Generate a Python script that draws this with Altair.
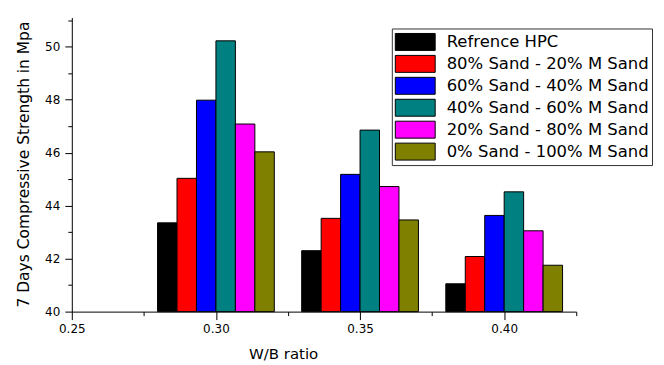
import altair as alt
import pandas as pd

wb_ratio = [0.30, 0.35, 0.40]
series = ["Refrence HPC", "80% Sand - 20% M Sand", "60% Sand - 40% M Sand",
          "40% Sand - 60% M Sand", "20% Sand - 80% M Sand", "0% Sand - 100% M Sand"]
colors = ["#000000", "#FF0000", "#0000FF", "#008080", "#FF00FF", "#808000"]

refrence_hpc = [43.35, 42.30, 41.05]
s80_m20 = [45.03, 43.52, 42.08]
s60_m40 = [47.98, 45.18, 43.63]
s40_m60 = [50.22, 46.85, 44.52]
s20_m80 = [47.08, 44.72, 43.05]
s0_m100 = [46.03, 43.46, 41.75]

y_ticks = [40, 42, 44, 46, 48, 50]
y_minor = [41, 43, 45, 47, 49, 51]
x_ticks = [0.25, 0.30, 0.35, 0.40]
x_minor = [0.275, 0.325, 0.375, 0.425]

values = [refrence_hpc, s80_m20, s60_m40, s40_m60, s20_m80, s0_m100]
rows = []
for i, (name, vals) in enumerate(zip(series, values)):
    for wb, v in zip(wb_ratio, vals):
        rows.append({"wb": wb, "series": name, "idx": i, "value": v})
df = pd.DataFrame(rows)

FONT = "DejaVu Sans"
xscale = alt.Scale(domain=[0.25, 0.425], nice=False, zero=False)
yscale = alt.Scale(domain=[40, 51.1], nice=False, zero=False)

bars = alt.Chart(df).transform_calculate(
    x0="datum.wb + (datum.idx - 3) * 0.00675",
    x1="datum.wb + (datum.idx - 2) * 0.00675",
).mark_bar(stroke="black", strokeWidth=1).encode(
    x=alt.X("x0:Q", scale=xscale, axis=alt.Axis(
        orient="bottom",
        values=x_ticks, format=".2f", labelFlush=False, labelOverlap=False,
        labelFont=FONT, labelFontSize=12, labelColor="black", labelPadding=4,
        tickSize=8, tickColor="black", domainColor="black", grid=False,
        title="W/B ratio", titleFont=FONT, titleFontSize=15, titleFontWeight="normal",
        titleColor="black", titleX=212, titleY=47, titleAlign="center",
        titleBaseline="alphabetic")),
    x2="x1:Q",
    y=alt.Y("value:Q", scale=yscale, axis=alt.Axis(
        orient="left",
        values=y_ticks, format="d", labelFlush=False, labelOverlap=False,
        labelFont=FONT, labelFontSize=12, labelColor="black", labelPadding=5,
        tickSize=7, tickColor="black", domainColor="black", grid=False,
        title="7 Days Compressive Strength in Mpa", titleFont=FONT,
        titleFontSize=15.5, titleFontWeight="normal", titleColor="black",
        titleX=-43, titleY=147, titleAngle=270, titleAlign="center",
        titleBaseline="alphabetic")),
    y2=alt.datum(40),
    color=alt.Color("series:N", scale=alt.Scale(domain=series, range=colors),
                    legend=alt.Legend(
                        title=None, orient="none", legendX=321, legendY=11,
                        symbolType="M-2,-0.85H2V0.85H-2Z", symbolSize=400,
                        symbolStrokeColor="black", symbolStrokeWidth=1,
                        symbolOffset=10, labelOffset=21, labelFont=FONT,
                        labelFontSize=16.5, labelColor="black", labelLimit=400,
                        strokeColor="#333333", fillColor="white", padding=3,
                        rowPadding=1, symbolOpacity=1)),
)

minor = alt.Chart(df).mark_point(opacity=0).encode(
    x=alt.X("wb:Q", scale=xscale, axis=alt.Axis(
        orient="bottom",
        values=x_minor, labels=False, domain=False, tickSize=4,
        tickColor="black", grid=False, title=None)),
    y=alt.Y("value:Q", scale=yscale, axis=alt.Axis(
        orient="left",
        values=y_minor, labels=False, domain=False, tickSize=4,
        tickColor="black", grid=False, title=None)),
)

chart = alt.layer(bars, minor).resolve_axis(
    x="independent", y="independent"
).properties(
    width=506, height=295,
    autosize=alt.AutoSizeParams(type="none"),
    padding={"left": 64, "top": 9, "right": 80, "bottom": 52},
).configure_view(strokeWidth=0)

chart.save("out.html", embed_options={"renderer": "svg", "actions": False})
